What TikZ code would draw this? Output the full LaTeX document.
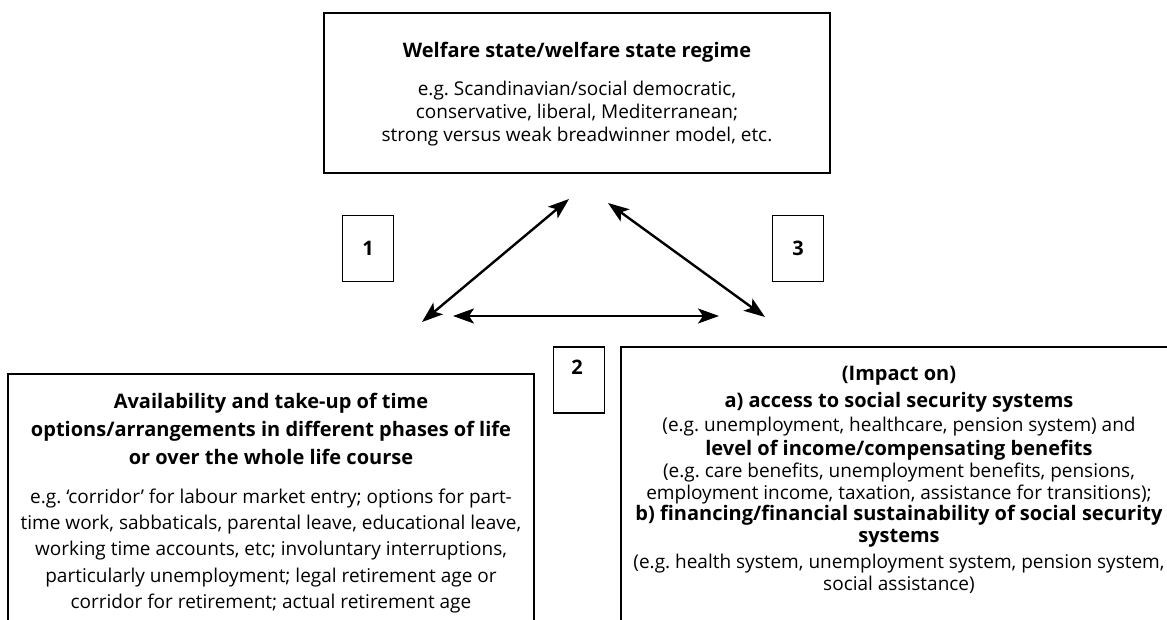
\documentclass[tikz,border=0pt]{standalone}
\usepackage{fontspec}
\setmainfont{Open Sans}
\usetikzlibrary{arrows.meta}

\tikzset{
  box/.style={draw, line width=0.7pt, inner sep=0pt},
  numbox/.style={draw, line width=0.7pt, minimum width=25.5pt, minimum height=33pt, inner sep=0pt},
  title/.style={font=\fontsize{10}{12.3}\selectfont\bfseries, align=center, inner sep=0pt},
  body/.style={font=\fontsize{9.5}{11}\selectfont, align=center, inner sep=0pt},
  arrow/.style={<->, line width=1.2pt, >={Stealth[length=10.5pt, width=7.5pt, inset=2.5pt]}}
}

\begin{document}
\begin{tikzpicture}[x=0.5pt, y=-0.5pt]

    \useasboundingbox (0,0) rectangle (1167,620);

    %% Welfare state regime

    % Box
    \node[box, minimum width=253pt, minimum height=80pt] (welfare) at (577,93) {};
    \node[title] (welfaretitle) at (577,52) {Welfare state/welfare state regime};
    \node[body, font=\fontsize{9.5}{11.5}\selectfont] (welfaretext) at (577,114) {e.g.\ Scandinavian/social democratic,\\
      conservative, liberal, Mediterranean;\\
      strong versus weak breadwinner model, etc.};

    %% Time options

    % Box
    \node[box, minimum width=263pt, minimum height=125.5pt] (options) at (271,499.5) {};
    \node[title, font=\fontsize{10}{13.8}\selectfont\bfseries] (optionstitle) at (271,429) {Availability and take-up of time\\
      options/arrangements in different phases of life\\
      or over the whole life course};
    \node[body, font=\fontsize{9.5}{13.2}\selectfont] (optionstext) at (271,551) {e.g.\ `corridor' for labour market entry; options for part-\\
      time work, sabbaticals, parental leave, educational leave,\\
      working time accounts, etc; involuntary interruptions,\\
      particularly unemployment; legal retirement age or\\
      corridor for retirement; actual retirement age};

    %% Impact on social security

    % Box
    \node[box, minimum width=278pt, minimum height=139pt] (impact) at (899,486) {};
    \node[title] (impacthead) at (899,376) {(Impact on)};
    \node[title] (impacta) at (899,402) {a) access to social security systems};
    \node[body] (impactatext) at (899,427) {(e.g.\ unemployment, healthcare, pension system) and};
    \node[title] (impactlevel) at (899,450) {level of income/compensating benefits};
    \node[body] (impactleveltext) at (899,484) {(e.g.\ care benefits, unemployment benefits, pensions,\\
      employment income, taxation, assistance for transitions);};
    \node[title, font=\fontsize{10}{11}\selectfont\bfseries] (impactb) at (899,526) {b) financing/financial sustainability of social security\\
      systems};
    \node[body] (impactbtext) at (899,574) {(e.g.\ health system, unemployment system, pension system,\\
      social assistance)};

    %% Numbers

    \node[numbox, title] (one) at (368,248.5) {1};
    \node[numbox] (two) at (579,380) {};
    \node[title] (twolabel) at (577,367) {2};
    \node[numbox, title] (three) at (798,248.5) {3};

    %% Relations

    \coordinate (leftend) at (422,322);
    \coordinate (topleft) at (569,199);
    \coordinate (topright) at (608,203);
    \coordinate (rightend) at (765,317);
    \coordinate (midleft) at (453,316);
    \coordinate (midright) at (719,316);

    \draw[arrow] (leftend) -- (topleft);
    \draw[arrow] (topright) -- (rightend);
    \draw[arrow] (midleft) -- (midright);

\end{tikzpicture}
\end{document}
